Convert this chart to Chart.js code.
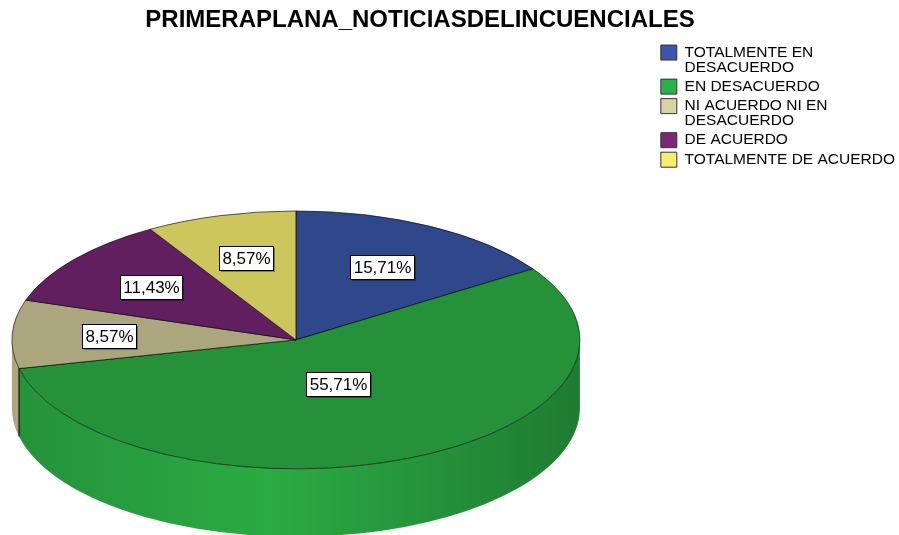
<!DOCTYPE html>
<html>
<head>
<meta charset="utf-8">
<script src="https://cdn.jsdelivr.net/npm/chart.js@4.4.1/dist/chart.umd.min.js"></script>
<style>
  html, body { margin: 0; padding: 0; background: #fff; overflow: hidden; width: 899px; height: 535px; }
  /* the picture is a crop of a larger chart: left and bottom are cut off */
  #pie { position: absolute; left: -65px; top: 0; }
</style>
</head>
<body>
<canvas id="pie" width="972" height="639"></canvas>
<script>
const categories = [
  ['TOTALMENTE EN', 'DESACUERDO'],
  'EN DESACUERDO',
  ['NI ACUERDO NI EN', 'DESACUERDO'],
  'DE ACUERDO',
  'TOTALMENTE DE ACUERDO'
];
const percents = [15.71, 55.71, 8.57, 11.43, 8.57];

const topColors = ['#2f488b', '#25923a', '#aba67d', '#621f60', '#cdc65d'];
const legendColors = ['#3c56aa', '#2ab24a', '#d8d2a4', '#7b2a78', '#f4f06e'];

const FONT = '"Liberation Sans", Arial, sans-serif';
const TILT = 0.454;   // vertical squash of the pie top
const DEPTH = 68;     // height of the pie wall in px

function shade(hex, f) {
  const n = parseInt(hex.slice(1), 16);
  const c = [n >> 16, (n >> 8) & 255, n & 255].map(v => Math.max(0, Math.min(255, Math.round(v * f))));
  return 'rgb(' + c.join(',') + ')';
}

// draws the pie as a tilted disc with a wall, then the % boxes
const tiltPlugin = {
  id: 'tilt',
  beforeDatasetsDraw(chart) {
    const ctx = chart.ctx;
    const arcs = chart.getDatasetMeta(0).data;
    const {x, y, outerRadius: r} = arcs[0];
    const ry = r * TILT;

    arcs.forEach((arc, i) => {
      // only the front half of the wall can be seen
      const a = Math.max(arc.startAngle, 0);
      const b = Math.min(arc.endAngle, Math.PI);
      if (b <= a) return;
      const base = topColors[i];
      const g = ctx.createLinearGradient(x - r, 0, x + r, 0);
      g.addColorStop(0, shade(base, 1.0));
      g.addColorStop(0.45, shade(base, 1.17));
      g.addColorStop(1, shade(base, 0.84));
      ctx.beginPath();
      ctx.ellipse(x, y, r, ry, 0, a, b);
      ctx.ellipse(x, y + DEPTH, r, ry, 0, b, a, true);
      ctx.closePath();
      ctx.fillStyle = g;
      ctx.fill();
      if (arc.startAngle > 0 && arc.startAngle < Math.PI) {
        const ex = x + Math.cos(arc.startAngle) * r;
        const ey = y + Math.sin(arc.startAngle) * ry;
        ctx.beginPath();
        ctx.moveTo(ex, ey);
        ctx.lineTo(ex, ey + DEPTH);
        ctx.strokeStyle = '#111';
        ctx.lineWidth = 1.2;
        ctx.stroke();
      }
    });

    ctx.save();
    ctx.translate(x, y);
    ctx.scale(1, TILT);
    ctx.translate(-x, -y);
  },
  afterDatasetsDraw(chart) {
    const ctx = chart.ctx;
    ctx.restore();
    const arcs = chart.getDatasetMeta(0).data;
    const {x, y, outerRadius: r} = arcs[0];

    ctx.save();
    ctx.font = '17px ' + FONT;
    ctx.textAlign = 'center';
    ctx.textBaseline = 'middle';
    arcs.forEach((arc, i) => {
      // label at the centroid of the slice
      const half = (arc.endAngle - arc.startAngle) / 2;
      const mid = arc.startAngle + half;
      const d = (2 / 3) * r * Math.sin(half) / half;
      const lx = x + Math.cos(mid) * d;
      const ly = y + Math.sin(mid) * d * TILT;
      const text = percents[i].toFixed(2).replace('.', ',') + '%';
      const w = Math.round(ctx.measureText(text).width + 6);
      const h = 24;
      const bx = Math.round(lx - w / 2) + 0.5;
      const by = Math.round(ly - h / 2) + 0.5;
      ctx.fillStyle = 'rgba(0,0,0,0.35)';
      ctx.fillRect(bx + 1.5, by + 1.5, w, h);
      ctx.fillStyle = '#fff';
      ctx.fillRect(bx, by, w, h);
      ctx.strokeStyle = '#000';
      ctx.lineWidth = 1;
      ctx.strokeRect(bx, by, w, h);
      ctx.fillStyle = '#000';
      ctx.fillText(text, bx + w / 2, by + h / 2 + 1);
    });
    ctx.restore();
  }
};

new Chart(document.getElementById('pie'), {
  type: 'pie',
  data: {
    labels: categories,
    datasets: [{
      data: percents,
      backgroundColor: topColors,
      borderColor: 'rgba(0,0,0,0.85)',
      borderWidth: 1,
      radius: 284
    }]
  },
  options: {
    responsive: false,
    animation: false,
    events: [],
    layout: { padding: { left: 0, right: 2, top: 0, bottom: 0 } },
    plugins: {
      title: {
        display: true,
        text: 'PRIMERAPLANA_NOTICIASDELINCUENCIALES',
        color: '#000',
        font: { family: FONT, size: 24, weight: 'bold', lineHeight: 1.2 },
        padding: { top: 6, bottom: 6 }
      },
      legend: {
        position: 'right',
        align: 'start',
        fullSize: false,
        labels: {
          boxWidth: 16,
          boxHeight: 15,
          padding: 4,
          color: '#000',
          font: { family: FONT, size: 15.5, lineHeight: 0.97 },
          generateLabels: () => categories.map((c, i) => ({
            text: c,
            fillStyle: legendColors[i],
            strokeStyle: '#333',
            lineWidth: 1,
            hidden: false,
            index: i
          }))
        }
      },
      tooltip: { enabled: false }
    }
  },
  plugins: [tiltPlugin]
});
</script>
</body>
</html>
